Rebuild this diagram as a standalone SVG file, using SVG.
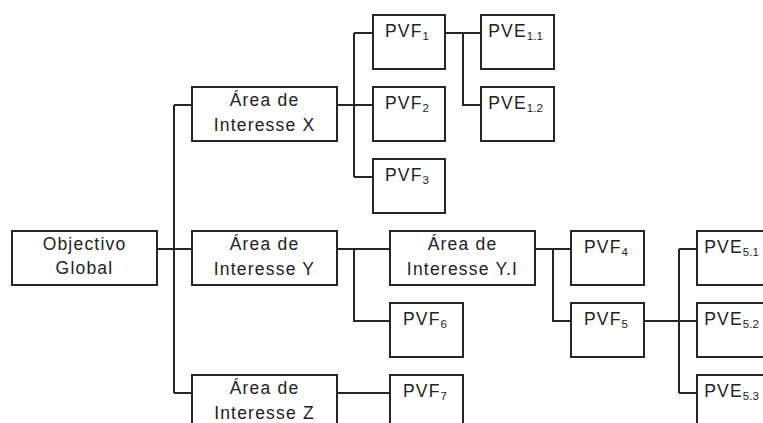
<svg xmlns="http://www.w3.org/2000/svg" width="763" height="423" viewBox="0 0 763 423">
<style>
.box{fill:#fff;stroke:#262626;stroke-width:2}
.ln{fill:none;stroke:#262626;stroke-width:2}
text{font-family:"Liberation Sans",Arial,sans-serif;font-size:17.5px;fill:#222;text-anchor:middle;letter-spacing:1.2px}
.sub{font-size:11.5px;letter-spacing:0}
</style>
<rect width="763" height="423" fill="#fff"/>
<g id="connectors">
<path class="ln" d="M157 249H192M174 105V393M174 105H192M174 393H192"/>
<path class="ln" d="M337 105H354M354 33V177M354 33H373M354 105H373M354 177H373"/>
<path class="ln" d="M445 33H481M463 33V105H481"/>
<path class="ln" d="M337 249H390M354 249V321H390"/>
<path class="ln" d="M337 393H390"/>
<path class="ln" d="M535 249H571M553 249V321H571"/>
<path class="ln" d="M644 321H697M679 249V393M679 249H697M679 393H697"/>
</g>
<g id="obj"><rect class="box" x="12" y="231" width="145" height="54"/><text x="84.5" y="250">Objectivo</text><text x="84.5" y="274">Global</text></g>
<g id="areaX"><rect class="box" x="192" y="87" width="145" height="54"/><text x="264.5" y="106">Área de</text><text x="264.5" y="131">Interesse X</text></g>
<g id="areaY"><rect class="box" x="192" y="231" width="145" height="54"/><text x="264.5" y="250">Área de</text><text x="264.5" y="275">Interesse Y</text></g>
<g id="areaZ"><rect class="box" x="192" y="375" width="145" height="54"/><text x="264.5" y="394">Área de</text><text x="264.5" y="419">Interesse Z</text></g>
<g id="areaYI"><rect class="box" x="390" y="231" width="145" height="54"/><text x="462.5" y="250">Área de</text><text x="462.5" y="275">Interesse Y.I</text></g>
<g id="pvf1"><rect class="box" x="373" y="15" width="72" height="54"/><text x="407" y="37">PVF<tspan class="sub" dy="3">1</tspan></text></g>
<g id="pvf2"><rect class="box" x="373" y="87" width="72" height="54"/><text x="407" y="109">PVF<tspan class="sub" dy="3">2</tspan></text></g>
<g id="pvf3"><rect class="box" x="373" y="159" width="72" height="54"/><text x="407" y="181">PVF<tspan class="sub" dy="3">3</tspan></text></g>
<g id="pve11"><rect class="box" x="481" y="15" width="73" height="54"/><text x="515.5" y="37">PVE<tspan class="sub" dy="3">1.1</tspan></text></g>
<g id="pve12"><rect class="box" x="481" y="87" width="73" height="54"/><text x="515.5" y="109">PVE<tspan class="sub" dy="3">1.2</tspan></text></g>
<g id="pvf6"><rect class="box" x="390" y="303" width="73" height="54"/><text x="425" y="325">PVF<tspan class="sub" dy="3">6</tspan></text></g>
<g id="pvf7"><rect class="box" x="390" y="375" width="73" height="54"/><text x="425" y="397">PVF<tspan class="sub" dy="3">7</tspan></text></g>
<g id="pvf4"><rect class="box" x="571" y="231" width="73" height="54"/><text x="606" y="253">PVF<tspan class="sub" dy="3">4</tspan></text></g>
<g id="pvf5"><rect class="box" x="571" y="303" width="73" height="54"/><text x="606" y="325">PVF<tspan class="sub" dy="3">5</tspan></text></g>
<g id="pve51"><rect class="box" x="697" y="231" width="73" height="54"/><text x="731.5" y="253">PVE<tspan class="sub" dy="3">5.1</tspan></text></g>
<g id="pve52"><rect class="box" x="697" y="303" width="73" height="54"/><text x="731.5" y="325">PVE<tspan class="sub" dy="3">5.2</tspan></text></g>
<g id="pve53"><rect class="box" x="697" y="375" width="73" height="54"/><text x="731.5" y="397">PVE<tspan class="sub" dy="3">5.3</tspan></text></g>
</svg>
